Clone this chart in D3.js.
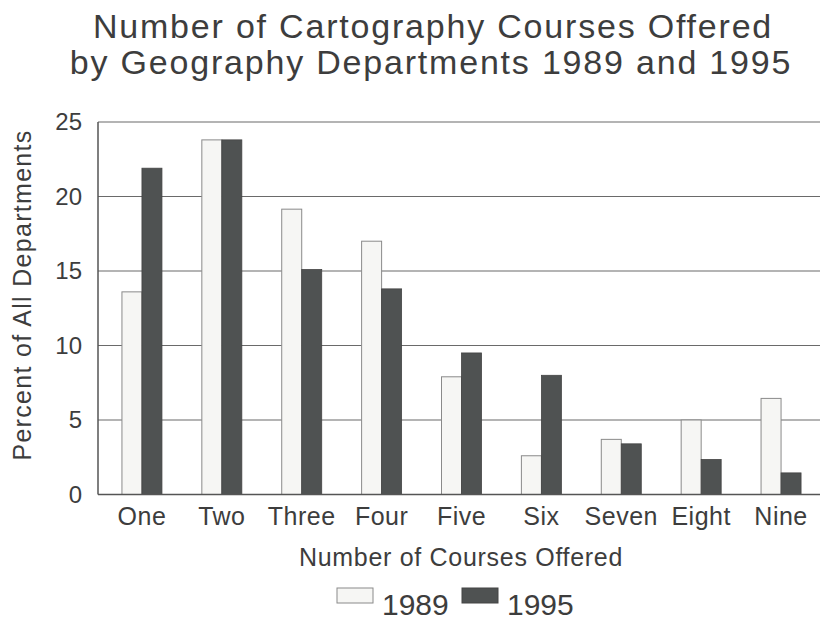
<!DOCTYPE html>
<html>
<head>
<meta charset="utf-8">
<script src="https://cdn.jsdelivr.net/npm/d3@7"></script>
<style>
  body { margin: 0; background: #fff; }
  text { font-family: "Liberation Sans", Arial, sans-serif; fill: #3d3d3d; }
</style>
</head>
<body>
<div class="chart"></div>
<script>
var categories = ["One", "Two", "Three", "Four", "Five", "Six", "Seven", "Eight", "Nine"];
var values1989 = [13.6, 23.8, 19.15, 17.0, 7.9, 2.6, 3.7, 5.0, 6.45];
var values1995 = [21.9, 23.8, 15.1, 13.8, 9.5, 8.0, 3.4, 2.35, 1.45];
var yTicks = [0, 5, 10, 15, 20, 25];
var seriesNames = ["1989", "1995"];

var svgWidth = 820;
var svgHeight = 623;

var plot = { left: 98, right: 822, top: 122, bottom: 494.5 };

var svg = d3.select(".chart")
  .append("svg")
  .attr("width", svgWidth)
  .attr("height", svgHeight);

var xScale = d3.scaleBand()
  .domain(categories)
  .range([102, 821])
  .padding(0);

var yScale = d3.scaleLinear()
  .domain([0, 25])
  .range([plot.bottom, plot.top]);

var barWidth = 20;

// gridlines
svg.append("g")
  .selectAll("line")
  .data(yTicks.filter(d => d > 0))
  .enter()
  .append("line")
  .attr("x1", plot.left)
  .attr("x2", plot.right)
  .attr("y1", d => yScale(d))
  .attr("y2", d => yScale(d))
  .attr("stroke", "#6a6a6a")
  .attr("stroke-width", 1.2);

// y axis labels
var leftAxis = d3.axisLeft(yScale).tickValues(yTicks).tickSize(0).tickPadding(16);
var yAxis = svg.append("g")
  .attr("transform", `translate(${plot.left}, 0)`)
  .call(leftAxis);
yAxis.select(".domain").remove();
yAxis.selectAll("text")
  .style("font-size", "24px")
  .style("font-family", "Liberation Sans, Arial, sans-serif")
  .attr("fill", "#3d3d3d");

// bars
var groups = svg.append("g")
  .selectAll("g")
  .data(categories)
  .enter()
  .append("g")
  .attr("transform", d => `translate(${xScale(d) + xScale.bandwidth() / 2}, 0)`);

groups.append("rect")
  .attr("x", -barWidth)
  .attr("width", barWidth)
  .attr("y", (d, i) => yScale(values1989[i]))
  .attr("height", (d, i) => yScale(0) - yScale(values1989[i]))
  .attr("fill", "#f6f6f4")
  .attr("stroke", "#8a8a8a")
  .attr("stroke-width", 1);

groups.append("rect")
  .attr("x", 0)
  .attr("width", barWidth)
  .attr("y", (d, i) => yScale(values1995[i]))
  .attr("height", (d, i) => yScale(0) - yScale(values1995[i]))
  .attr("fill", "#4f5252")
  .attr("stroke", "#444")
  .attr("stroke-width", 0.8);

// frame: left axis and baseline
svg.append("line")
  .attr("x1", plot.left).attr("x2", plot.left)
  .attr("y1", plot.top).attr("y2", plot.bottom)
  .attr("stroke", "#555").attr("stroke-width", 1.5);
svg.append("line")
  .attr("x1", plot.left).attr("x2", plot.right)
  .attr("y1", plot.bottom).attr("y2", plot.bottom)
  .attr("stroke", "#555").attr("stroke-width", 1.5);

// x axis labels
var bottomAxis = d3.axisBottom(xScale).tickSize(0).tickPadding(13);
var xAxis = svg.append("g")
  .attr("transform", `translate(0, ${plot.bottom})`)
  .call(bottomAxis);
xAxis.select(".domain").remove();
xAxis.selectAll("text")
  .style("font-size", "25px")
  .style("font-family", "Liberation Sans, Arial, sans-serif")
  .style("letter-spacing", "0.5px")
  .attr("fill", "#3d3d3d");

// title
var title = svg.append("text")
  .attr("text-anchor", "middle")
  .style("font-size", "34px")
  .style("letter-spacing", "1.8px");
title.append("tspan").attr("x", 433).attr("y", 38)
  .text("Number of Cartography Courses Offered");
title.append("tspan").attr("x", 431).attr("y", 74)
  .text("by Geography Departments 1989 and 1995");

// axis titles
svg.append("text")
  .attr("x", 461)
  .attr("y", 566)
  .attr("text-anchor", "middle")
  .style("font-size", "25px")
  .style("letter-spacing", "0.7px")
  .text("Number of Courses Offered");

svg.append("text")
  .attr("transform", `translate(31, ${(127 + 463) / 2}) rotate(-90)`)
  .attr("text-anchor", "middle")
  .style("font-size", "25px")
  .style("letter-spacing", "1.3px")
  .text("Percent of All Departments");

// legend
var legend = svg.append("g");
var legendItems = [
  { name: seriesNames[0], x: 337, fill: "#f6f6f4", stroke: "#8a8a8a" },
  { name: seriesNames[1], x: 462, fill: "#4f5252", stroke: "#444" }
];
legend.selectAll("rect")
  .data(legendItems)
  .enter()
  .append("rect")
  .attr("x", d => d.x)
  .attr("y", 588)
  .attr("width", 36)
  .attr("height", 15)
  .attr("fill", d => d.fill)
  .attr("stroke", d => d.stroke);
legend.selectAll("text")
  .data(legendItems)
  .enter()
  .append("text")
  .attr("x", d => d.x + 45)
  .attr("y", 615)
  .style("font-size", "30px")
  .text(d => d.name);
</script>
</body>
</html>
